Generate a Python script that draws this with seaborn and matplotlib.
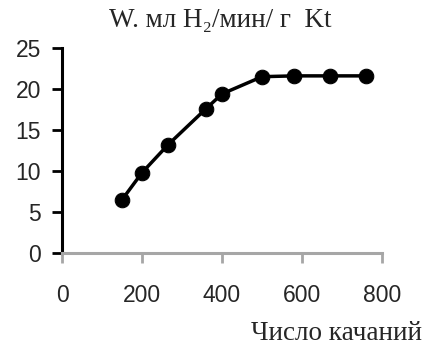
import matplotlib
matplotlib.use("Agg")
import matplotlib.pyplot as plt
import seaborn as sns
import pandas as pd

swings = [150, 200, 265, 360, 400, 500, 580, 670, 760]
rate = [6.5, 9.8, 13.2, 17.6, 19.4, 21.5, 21.6, 21.6, 21.6]
x_ticks = [0, 200, 400, 600, 800]
y_ticks = [0, 5, 10, 15, 20, 25]

sns.set_style("white")
plt.rcParams['font.family'] = ['Liberation Sans', 'DejaVu Sans']

df = pd.DataFrame({"x": swings, "y": rate})

fig = plt.figure(figsize=(4.28, 3.49), dpi=100)
ax = fig.add_axes([0.145, 0.275, 0.7475, 0.5875])
sns.lineplot(data=df, x="x", y="y", ax=ax, color="black", linewidth=2.5,
             marker="o", markersize=10.5, markeredgecolor="black", markerfacecolor="black")

ax.set_xlim(0, 800)
ax.set_ylim(0, 25)
ax.set_xticks(x_ticks)
ax.set_yticks(y_ticks)
ax.tick_params(axis="both", labelsize=16.5)
ax.tick_params(axis="y", direction="out", length=7, width=2, color="black", pad=8, left=True)
ax.tick_params(axis="x", direction="out", length=7, width=2, color="#a6a6a6", pad=15, bottom=True)
for s in ["top", "right"]:
    ax.spines[s].set_visible(False)
ax.spines["left"].set_color("black")
ax.spines["left"].set_linewidth(2.2)
ax.spines["bottom"].set_color("#a6a6a6")
ax.spines["bottom"].set_linewidth(2.2)
ax.set_xlabel("")
ax.set_ylabel("")

fig.text(0.514, 0.94, "W. мл H₂/мин/ г  Kt", ha="center", va="center",
         fontsize=19.5, family=["Liberation Serif", "DejaVu Serif"])
fig.text(0.985, 0.045, "Число качаний", ha="right", va="center",
         fontsize=19.5, family=["Liberation Serif", "DejaVu Serif"])

fig.savefig("out.png", dpi=100)
